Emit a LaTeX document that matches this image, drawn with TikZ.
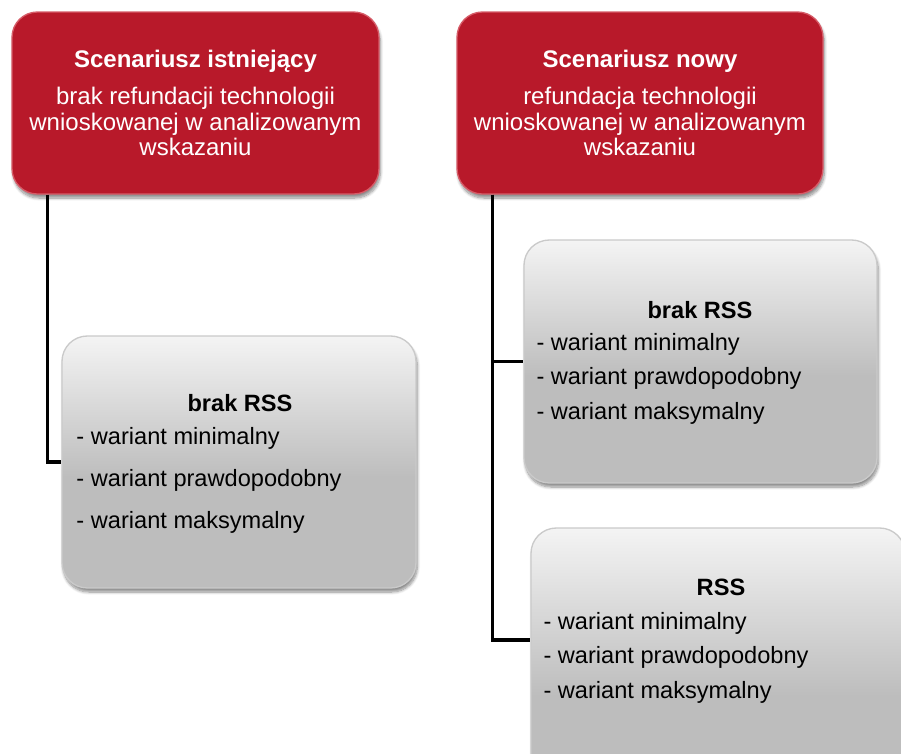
\documentclass[tikz,border=0pt]{standalone}
\usepackage{fontspec}
\setmainfont{Liberation Sans}
\usetikzlibrary{shadows.blur}

\definecolor{boxred}{RGB}{184,25,42}
\definecolor{boxredrim}{RGB}{214,92,104}
\definecolor{graytop}{RGB}{244,244,244}
\definecolor{graybot}{RGB}{189,189,189}
\definecolor{grayrim}{RGB}{202,202,202}
\pgfdeclareverticalshading{grayfade}{100bp}{color(0bp)=(graybot); color(25bp)=(graybot); color(47bp)=(graybot); color(75bp)=(graytop); color(100bp)=(graytop)}

\tikzset{every picture/.style={line width=0.75pt}}
\tikzset{
  boxshadow/.style={blur shadow={shadow xshift=1pt, shadow yshift=-3pt, shadow blur steps=8, shadow opacity=45}},
  redbox/.style={draw=boxredrim, line width=1pt, fill=boxred, rounded corners=19pt, boxshadow,
    text=white, align=center, font=\fontsize{18}{19}\selectfont},
  graybox/.style={draw=grayrim, line width=1pt, shading=grayfade, rounded corners=19pt, boxshadow},
  boxtitle/.style={inner sep=0.75pt, font=\fontsize{17.7}{19}\selectfont\bfseries},
  boxlist/.style={anchor=west, inner sep=0.75pt, align=left},
  link/.style={draw=black, line width=2.6pt}
}

\begin{document}
\begin{tikzpicture}[x=0.75pt,y=0.75pt,yscale=-1,xscale=1]
    \useasboundingbox (0,0) rectangle (901,754);
    \clip (0,0) rectangle (901,754);

    %Shape: Rounded Rect [scenario boxes]
    \node[redbox, minimum width=275.25pt, minimum height=136.5pt] (scen1) at (195.5,103)
      {\textbf{Scenariusz istniejący}\\[9pt] brak refundacji technologii\\ wnioskowanej w analizowanym\\ wskazaniu};
    \node[redbox, minimum width=274.5pt, minimum height=136.5pt] (scen2) at (640,103)
      {\textbf{Scenariusz nowy}\\[9pt] refundacja technologii\\ wnioskowanej w analizowanym\\ wskazaniu};

    %Shape: Rounded Rect [variant boxes]
    \node[graybox, minimum width=265.5pt, minimum height=189pt] (g1) at (239,462) {};
    \node[graybox, minimum width=264.75pt, minimum height=182.25pt] (g2) at (700.5,361.5) {};
    \node[graybox, minimum width=280.5pt, minimum height=225pt] (g3) at (718,678) {};

    %Straight Lines [tree links]
    \coordinate (j1) at ([xshift=27pt]scen1.south west);
    \coordinate (j2) at ([xshift=27pt]scen2.south west);
    \draw[link] (j1) |- (g1.west);
    \draw[link] (j2) |- (g2.west);
    \draw[link] (j2) |- ([yshift=-28.5pt]g3.west);

    % Text Node
    \node[boxtitle] (t1) at (240,403) {brak RSS};
    \node[boxlist, font=\fontsize{17.7}{31.5}\selectfont] (l1) at (75,480)
      {- wariant minimalny\\ - wariant prawdopodobny\\ - wariant maksymalny};
    % Text Node
    \node[boxtitle] (t2) at (700,310) {brak RSS};
    \node[boxlist, font=\fontsize{17.7}{25.9}\selectfont] (l2) at (535,378.5)
      {- wariant minimalny\\ - wariant prawdopodobny\\ - wariant maksymalny};
    % Text Node
    \node[boxtitle] (t3) at (721,587) {RSS};
    \node[boxlist, font=\fontsize{17.7}{25.9}\selectfont] (l3) at (542,657.5)
      {- wariant minimalny\\ - wariant prawdopodobny\\ - wariant maksymalny};

\end{tikzpicture}
\end{document}
